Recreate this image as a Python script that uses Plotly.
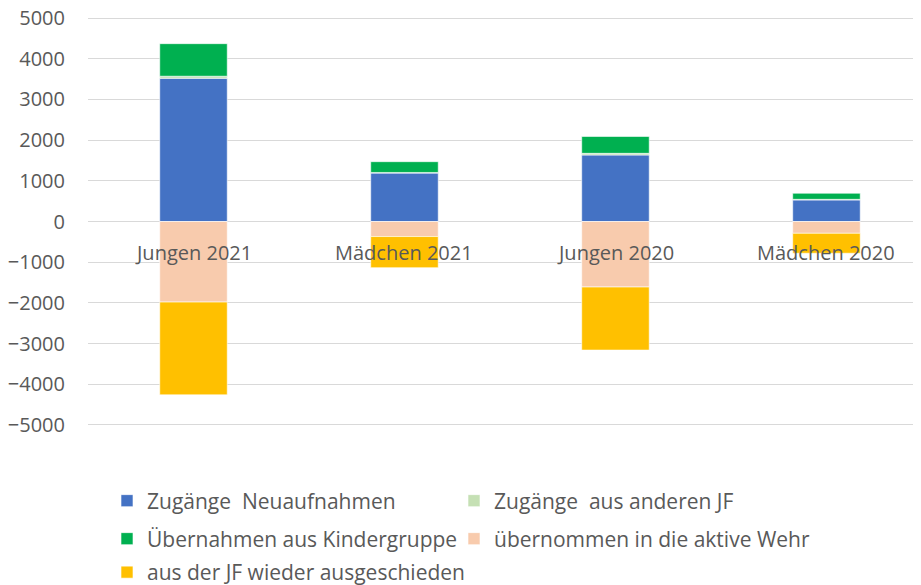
import plotly.graph_objects as go

categories = ["Jungen 2021", "Mädchen 2021", "Jungen 2020", "Mädchen 2020"]
neuaufnahmen = [3520, 1190, 1635, 530]
andere_jf = [50, 15, 40, 15]
kindergruppe = [800, 265, 415, 150]
aktive_wehr = [-1980, -370, -1610, -290]
ausgeschieden = [-2280, -765, -1550, -490]

series = [
    ("Zugänge  Neuaufnahmen", neuaufnahmen, "#4472C4"),
    ("Zugänge  aus anderen JF", andere_jf, "#C5E0B4"),
    ("Übernahmen aus Kindergruppe", kindergruppe, "#00B050"),
    ("übernommen in die aktive Wehr", aktive_wehr, "#F8CBAD"),
    ("aus der JF wieder ausgeschieden", ausgeschieden, "#FFC000"),
]
# legend slot (column, row) for each series
legend_slots = [(0, 0), (1, 0), (0, 1), (1, 1), (0, 2)]

FONT = "Open Sans"
TXT = "#595959"

fig = go.Figure()
legend_names = ["legend"] + [f"legend{i}" for i in range(2, len(series) + 1)]
for (name, vals, col), lg in zip(series, legend_names):
    fig.add_trace(go.Bar(
        x=categories, y=vals, name=name, legend=lg,
        marker=dict(color=col, line=dict(color="white", width=0.6)),
    ))

for c in categories:
    fig.add_annotation(x=c, y=0, text=c, showarrow=False, yshift=-31,
                       font=dict(family=FONT, size=20, color=TXT))

col_x = [99, 446]
row_y = [493, 531, 564.5]

def legend_at(col, row):
    return dict(orientation="h", x=col_x[col] / 921, xanchor="left", xref="container",
                y=1 - row_y[row] / 585, yanchor="middle", yref="container",
                font=dict(family=FONT, size=21, color=TXT),
                itemwidth=30, bgcolor="rgba(0,0,0,0)")

legends = {lg: legend_at(*slot) for lg, slot in zip(legend_names, legend_slots)}

fig.update_layout(
    width=921, height=585,
    barmode="relative", bargap=0.68,
    plot_bgcolor="white", paper_bgcolor="white",
    margin=dict(l=80, r=0, t=8, b=166, autoexpand=False),
    font=dict(family=FONT, size=20, color=TXT),
    xaxis=dict(range=[-0.5, 3.486], showticklabels=False, showgrid=False,
               zeroline=False, showline=False, automargin=False),
    yaxis=dict(range=[-5050, 5050], tickvals=list(range(-5000, 5001, 1000)),
               showgrid=True,
               gridcolor="#D9D9D9", gridwidth=1, zeroline=True,
               zerolinecolor="#D9D9D9", zerolinewidth=1, automargin=False,
               ticklabelstandoff=22, ticklabeloverflow="allow",
               tickfont=dict(family=FONT, size=20, color=TXT)),
    showlegend=True,
    **legends,
)

fig.write_html("out.html")
